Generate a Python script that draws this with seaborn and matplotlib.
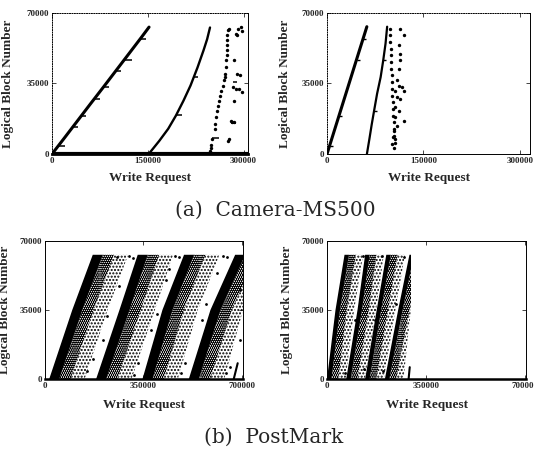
import matplotlib
matplotlib.use('Agg')
import matplotlib.pyplot as plt
from matplotlib.patches import Rectangle
import seaborn as sns

sns.set_style('ticks')
plt.rcParams['font.family'] = ['Liberation Serif', 'DejaVu Serif']
plt.rcParams['hatch.linewidth'] = 1.0

# ---- axis ticks ----
lbn_ticks = [0, 35000, 70000]
cam_ticks = [0, 150000, 300000]
pm_ticks = [0, 350000, 700000]

# ---- Camera-MS500, left panel ----
tl_line1_x = [0, 20000, 40000, 60000, 80000, 100000, 120000, 140000, 152000]
tl_line1_y = [0, 8200, 16500, 24800, 33000, 41300, 49600, 57900, 63000]
tl_line2_x = [151500, 168000, 182000, 194000, 206000, 217000, 228000, 237400, 243000, 247500]
tl_line2_y = [0, 6500, 12500, 19000, 26500, 34000, 43000, 51500, 57000, 62800]
tl_dash_x0 = [10000, 33000, 46000, 66000, 81500, 99700, 113000, 139000, 194000, 221000, 250000, 280300, 282800]
tl_dash_x1 = [20000, 41000, 54000, 75000, 90000, 108000, 126000, 147000, 203000, 229000, 262000, 287900, 290400]
tl_dash_y = [4000, 13500, 19000, 27300, 33500, 41000, 46500, 57000, 19500, 38000, 8000, 15600, 35800]
tl_dots_x = [247500, 248500, 249000, 250500, 255000, 256000, 257500, 259000, 260100, 261600, 263700, 265100,
             267700, 269200, 270700, 271700, 272700, 273200, 273700, 274200, 274200, 274700, 274700, 275200,
             276700, 291900, 295400, 298000, 287900, 290400, 285300, 290400, 293900, 284300, 287900, 292900,
             298000, 285300, 280300, 281800, 285300, 277700, 275200]
tl_dots_y = [1500, 3000, 4700, 7200, 12300, 14800, 18200, 21500, 24000, 26500, 29000, 31500,
             34000, 36500, 38200, 39800, 43200, 46500, 49000, 51500, 54000, 56500, 59000, 61500,
             62300, 62300, 63200, 61000, 59800, 59000, 46500, 39800, 39000, 33200, 32300, 32300,
             31000, 26500, 16500, 15700, 15700, 7300, 6500]
tl_floor_x = [0, 307000]
tl_floor_y = [0, 0]

# ---- Camera-MS500, right panel ----
tr_line1_x = [0, 10000, 20000, 30000, 40000, 50000, 58000, 62000]
tr_line1_y = [0, 10200, 20400, 30600, 40800, 51000, 59100, 63200]
tr_line2_x = [62100, 66000, 69500, 73300, 78000, 83500, 87500, 91100, 93600]
tr_line2_y = [0, 7500, 14500, 21500, 30000, 38200, 46500, 54800, 63200]
tr_dash_x0 = [4000, 19000, 46000, 56000, 73000, 87000]
tr_dash_x1 = [9000, 24000, 51000, 61000, 78000, 92000]
tr_dash_y = [4000, 19000, 46500, 57000, 21500, 46500]
tr_dots_x = [97700, 98200, 98700, 99000, 99300, 99800, 100300, 100800, 101000, 101300, 101800, 102300,
             102800, 103300, 103800, 104300, 104800, 105300, 104800, 114300, 119300, 111500, 114300, 114300,
             111500, 109000, 111500, 116800, 119300, 106400, 109000, 114300, 106400, 111500, 106400, 119300,
             109000, 103800, 103000, 106400, 101300]
tr_dots_y = [62300, 59000, 55700, 52300, 49000, 45700, 42300, 39000, 35700, 32300, 29000, 25700,
             22300, 19000, 15700, 12300, 9000, 5700, 3200, 62300, 59000, 54000, 49800, 46500,
             42300, 36500, 34000, 33200, 31500, 31500, 28200, 27300, 23200, 21500, 18200, 16500,
             14000, 11500, 8200, 7300, 4800]

# ---- PostMark: write bands, leading edge x at LBN levels band_y ----
band_y = [0, 35000, 63000]

bl_lead = [[15000, 97000, 170000], [182000, 265000, 330000],
           [347000, 418000, 495000], [512000, 589000, 677000]]
bl_widths = [36000, 76000, 126000]      # solid core, dense, medium speckle (cumulative)
bl_trace_end = 705000
bl_tail_x = [672000, 686000]
bl_tail_y = [0, 8000]
bl_sparse_x = [150000, 170000, 208000, 222000, 262000, 255000, 300000, 312000,
               318000, 330000, 378000, 400000, 432000, 442000, 462000, 478000,
               485000, 500000, 560000, 572000, 612000, 632000, 648000,
               645000, 660000, 694000, 696000]
bl_sparse_y = [4000, 10000, 20000, 32000, 47000, 62000, 62500, 61500,
               2000, 8000, 25000, 33000, 50000, 56000, 62500, 62000,
               3000, 8000, 30000, 38000, 54000, 62500, 61800,
               3000, 6000, 20000, 45000]

br_lead = [[0, 30000, 62000], [68000, 108000, 135000],
           [135000, 176000, 210000], [205000, 252000, 292000]]
br_widths = [16000, 40000, 66000]
br_trace_end = 297000
br_tail_x = [289000, 293000]
br_tail_y = [0, 6000]
br_sparse_x = [64000, 98000, 126000, 131000, 170000, 195000, 200000, 244000, 272000]
br_sparse_y = [3000, 30000, 62500, 5000, 30000, 62500, 4000, 38000, 62000]

band_top = 63000


def region(ax, left, right, clip, **kw):
    xs = list(left) + list(reversed(right))
    ys = band_y + list(reversed(band_y))
    lw_h = kw.pop('hatch_lw', 1.0)
    with plt.rc_context({'hatch.linewidth': lw_h}):
        patches = ax.fill(xs, ys, lw=0, **kw)
    for p in patches:
        if hasattr(p, 'set_hatch_linewidth'):
            p.set_hatch_linewidth(lw_h)
        p.set_clip_path(clip)


def draw_bands(ax, leads, widths, trace_end):
    clip = Rectangle((-10000, -2000), trace_end + 10000, 80000, transform=ax.transData)
    core, dense, medium = widths
    for i, lead in enumerate(leads):
        nxt = leads[i + 1] if i + 1 < len(leads) else [trace_end] * len(band_y)
        region(ax, lead, [x + core for x in lead], clip, color='black')
        region(ax, [x + core for x in lead], [x + dense for x in lead], clip,
               facecolor='none', edgecolor='black', hatch='........', hatch_lw=1.6)
        region(ax, [x + dense for x in lead], [min(x + medium, n) for x, n in zip(lead, nxt)], clip,
               facecolor='none', edgecolor='black', hatch='.....', hatch_lw=1.0)


def style_axes(ax, xmax, xticks, dotted, floor_lw):
    ax.set_xlim(0, xmax)
    ax.set_ylim(0, 70000)
    ax.set_xticks(xticks)
    ax.set_xticklabels([str(t) for t in xticks])
    ax.set_yticks(lbn_ticks)
    ax.set_yticklabels([str(t) for t in lbn_ticks])
    ax.tick_params(direction='in', length=3, width=0.6, top=True, right=True, labelsize=6.5, pad=2)
    for lab in ax.get_xticklabels() + ax.get_yticklabels():
        lab.set_fontweight('bold')
    for side in ['top', 'left', 'right', 'bottom']:
        ax.spines[side].set_linewidth(0.7)
        ax.spines[side].set_color('black')
    if dotted:
        ax.spines['top'].set_linestyle((0, (1, 1.5)))
        ax.spines['left'].set_linestyle((0, (1, 1.5)))
    ax.spines['bottom'].set_linewidth(floor_lw)


fig = plt.figure(figsize=(5.34, 4.5), dpi=100)
ax_tl = fig.add_axes([0.0974, 0.6578, 0.367, 0.3133])
ax_tr = fig.add_axes([0.6124, 0.6578, 0.3801, 0.3133])
ax_bl = fig.add_axes([0.0843, 0.1578, 0.3708, 0.3067])
ax_br = fig.add_axes([0.6124, 0.1578, 0.3727, 0.3067])

# Camera-MS500 (left)
sns.lineplot(x=tl_floor_x, y=tl_floor_y, ax=ax_tl, color='black', lw=3, sort=False, estimator=None)
sns.lineplot(x=tl_line1_x, y=tl_line1_y, ax=ax_tl, color='black', lw=2.2, sort=False, estimator=None)
sns.lineplot(x=tl_line2_x, y=tl_line2_y, ax=ax_tl, color='black', lw=1.7, sort=False, estimator=None)
ax_tl.hlines(tl_dash_y, tl_dash_x0, tl_dash_x1, color='black', lw=1.1)
sns.scatterplot(x=tl_dots_x, y=tl_dots_y, ax=ax_tl, color='black', s=6, linewidth=0)
style_axes(ax_tl, 307000, cam_ticks, True, 2.0)

# Camera-MS500 (right)
sns.lineplot(x=tr_line1_x, y=tr_line1_y, ax=ax_tr, color='black', lw=2.2, sort=False, estimator=None)
sns.lineplot(x=tr_line2_x, y=tr_line2_y, ax=ax_tr, color='black', lw=1.6, sort=False, estimator=None)
ax_tr.hlines(tr_dash_y, tr_dash_x0, tr_dash_x1, color='black', lw=1.0)
sns.scatterplot(x=tr_dots_x, y=tr_dots_y, ax=ax_tr, color='black', s=6, linewidth=0)
style_axes(ax_tr, 316000, cam_ticks, True, 0.7)

# PostMark (left)
draw_bands(ax_bl, bl_lead, bl_widths, bl_trace_end)
sns.lineplot(x=bl_tail_x, y=bl_tail_y, ax=ax_bl, color='black', lw=1.5, sort=False, estimator=None)
sns.scatterplot(x=bl_sparse_x, y=bl_sparse_y, ax=ax_bl, color='black', s=4, linewidth=0)
style_axes(ax_bl, 705000, pm_ticks, False, 1.8)

# PostMark (right)
draw_bands(ax_br, br_lead, br_widths, br_trace_end)
sns.lineplot(x=br_tail_x, y=br_tail_y, ax=ax_br, color='black', lw=1.5, sort=False, estimator=None)
sns.scatterplot(x=br_sparse_x, y=br_sparse_y, ax=ax_br, color='black', s=4, linewidth=0)
style_axes(ax_br, 705000, pm_ticks, False, 1.8)

label_font = dict(fontsize=9.5, fontweight='bold')
for ax, xl_y, yl_x in [(ax_tl, -0.17, -0.224), (ax_tr, -0.17, -0.207),
                       (ax_bl, -0.19, -0.202), (ax_br, -0.19, -0.2)]:
    ax.set_xlabel('Write Request', va='center', **label_font)
    ax.set_ylabel('Logical Block Number', va='center', **label_font)
    ax.xaxis.set_label_coords(0.5, xl_y)
    ax.yaxis.set_label_coords(yl_x, 0.5)

fig.text(0.515, 1 - 210 / 450, '(a)  Camera-MS500', ha='center', va='center',
         family='DejaVu Serif', fontsize=14.5)
fig.text(0.513, 1 - 437 / 450, '(b)  PostMark', ha='center', va='center',
         family='DejaVu Serif', fontsize=14.5)

fig.savefig('out.png', dpi=100)
